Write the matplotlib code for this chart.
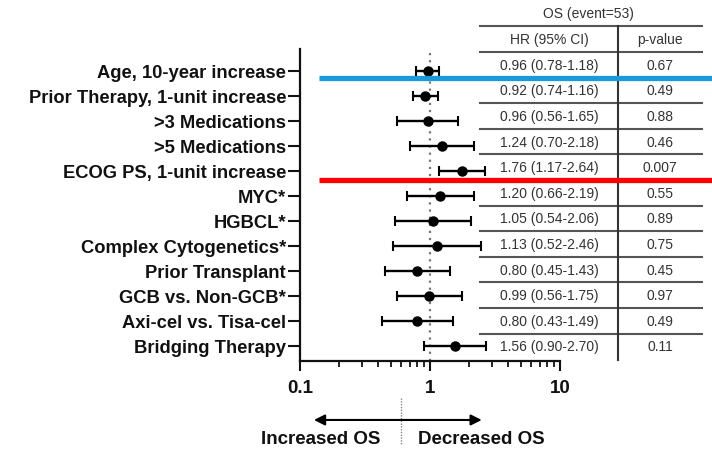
import numpy as np
import matplotlib
matplotlib.use("Agg")
import matplotlib.pyplot as plt
import matplotlib.transforms as mtransforms
from matplotlib.ticker import LogLocator, NullFormatter, FixedLocator, FixedFormatter

plt.rcParams['font.family'] = ['Liberation Sans', 'DejaVu Sans']

## ---- data ----
labels = ["Age, 10-year increase", "Prior Therapy, 1-unit increase", ">3 Medications",
          ">5 Medications", "ECOG PS, 1-unit increase", "MYC*", "HGBCL*",
          "Complex Cytogenetics*", "Prior Transplant", "GCB vs. Non-GCB*",
          "Axi-cel vs. Tisa-cel", "Bridging Therapy"]
hr = [0.96, 0.92, 0.96, 1.24, 1.76, 1.20, 1.05, 1.13, 0.80, 0.99, 0.80, 1.56]
ci_lo = [0.78, 0.74, 0.56, 0.70, 1.17, 0.66, 0.54, 0.52, 0.45, 0.56, 0.43, 0.90]
ci_hi = [1.18, 1.16, 1.65, 2.18, 2.64, 2.19, 2.06, 2.46, 1.43, 1.75, 1.49, 2.70]
pvals = ["0.67", "0.49", "0.88", "0.46", "0.007", "0.55", "0.89", "0.75",
         "0.45", "0.97", "0.49", "0.11"]
xticks = [0.1, 1, 10]
xticklabels = ["0.1", "1", "10"]
table_title = "OS (event=53)"
col_heads = ["HR (95% CI)", "p-value"]

hr = np.array(hr)
lo = np.array(ci_lo)
hi = np.array(ci_hi)
rows = np.arange(len(labels))

fig = plt.figure(figsize=(7.12, 4.52), dpi=100)

########################################################
## forest plot
########################################################
ax = fig.add_axes([300/712, 1-362/452, 260/712, 312/452])
ax.errorbar(hr, rows, xerr=[hr-lo, hi-hr], fmt='o', color='black', ecolor='black',
            markersize=6.5, elinewidth=1.7, capsize=3.3, capthick=1.5, zorder=3)
ax.axvline(1, color='#777777', lw=1.6, ls=(0, (1, 2.2)), zorder=1)

ax.set_xscale('log')
ax.set_xlim(0.1, 10)
ax.set_ylim(11.6, -0.88)
ax.xaxis.set_major_locator(FixedLocator(xticks))
ax.xaxis.set_major_formatter(FixedFormatter(xticklabels))
ax.xaxis.set_minor_locator(LogLocator(base=10, subs=np.arange(2, 10)))
ax.xaxis.set_minor_formatter(NullFormatter())
ax.set_yticks(rows)
ax.set_yticklabels(labels)

for s in ['top', 'right']:
    ax.spines[s].set_visible(False)
for s in ['left', 'bottom']:
    ax.spines[s].set_linewidth(1.6)
    ax.spines[s].set_color('#111111')

ax.tick_params(axis='y', length=9, width=1.5, pad=1, labelsize=13.2, colors='#111111')
ax.tick_params(axis='x', which='major', length=7, width=1.5, pad=6, labelsize=13.5, colors='#111111')
ax.tick_params(axis='x', which='minor', length=4, width=1.2)
for t in ax.get_yticklabels() + ax.get_xticklabels():
    t.set_fontweight('bold')

## direction annotation under the axis
trans = mtransforms.blended_transform_factory(ax.transData, ax.transAxes)
ax.annotate('', xy=(0.128, -0.189), xytext=(2.5, -0.189), xycoords=trans, textcoords=trans,
            arrowprops=dict(arrowstyle='<|-|>', color='black', lw=1.5, mutation_scale=16,
                            shrinkA=0, shrinkB=0))
ax.plot([0.6, 0.6], [-0.12, -0.27], transform=trans, clip_on=False,
        color='#888888', lw=1.0, ls=(0, (1, 1)))
ax.text(0.145, -0.25, "Increased OS", transform=trans, ha='center', va='center',
        fontsize=13.5, fontweight='bold', color='#111111')
ax.text(2.5, -0.25, "Decreased OS", transform=trans, ha='center', va='center',
        fontsize=13.5, fontweight='bold', color='#111111')

########################################################
## table on the right
########################################################
axt = fig.add_axes([480/712, 1-361/452, 222/712, 361/452])
axt.set_xlim(0, 1)
axt.set_ylim(11.53, -2.57)
axt.axis('off')
axt.set_zorder(3)

c1, c2, split = 0.311, 0.811, 0.6216
axt.text(0.49, -2.02, table_title, ha='center', va='center', fontsize=10, color='#333333')
axt.text(c1, -1.0, col_heads[0], ha='center', va='center', fontsize=10, color='#333333')
axt.text(c2, -1.0, col_heads[1], ha='center', va='center', fontsize=10, color='#333333')
for i in rows:
    axt.text(c1, i, "%.2f (%.2f-%.2f)" % (hr[i], lo[i], hi[i]), ha='center', va='center',
             fontsize=10, color='#333333')
    axt.text(c2, i, pvals[i], ha='center', va='center', fontsize=10, color='#333333')

for yl in np.arange(-1.5, len(labels) - 1, 1.0):
    axt.plot([0, 1], [yl, yl], color='#555555', lw=1.5, clip_on=False)
axt.plot([split, split], [-1.5, 11.53], color='#333333', lw=1.5, clip_on=False)

## highlight bars
axt.plot([-0.725, 1.1], [0.5, 0.5], color='#1a9bd7', lw=3.8, clip_on=False, solid_capstyle='butt')
axt.plot([-0.725, 1.1], [4.5, 4.5], color='#ff0000', lw=3.8, clip_on=False, solid_capstyle='butt')

fig.savefig('out.png', dpi=100)
